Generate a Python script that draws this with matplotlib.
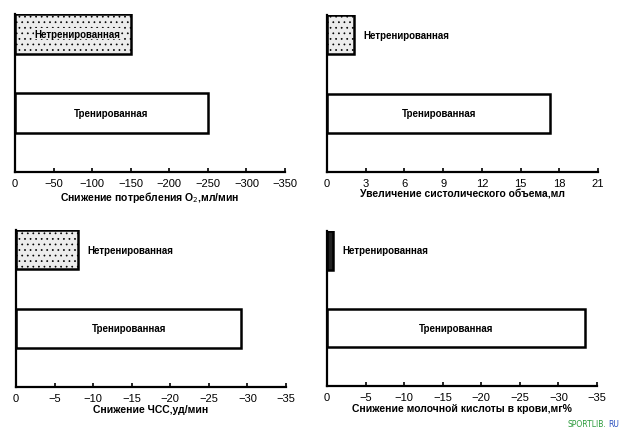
import matplotlib.pyplot as plt
import matplotlib as mpl

mpl.rcParams['hatch.linewidth'] = 0.5
plt.rcParams['font.family'] = ['Liberation Sans', 'DejaVu Sans']

# Data for the four panels
groups = ["Тренированная", "Нетренированная"]

o2_values = [-250, -150]
o2_ticks = [0, -50, -100, -150, -200, -250, -300, -350]
o2_label = "Снижение потребления O$_2$,мл/мин"

stroke_values = [17.3, 2.1]
stroke_ticks = [0, 3, 6, 9, 12, 15, 18, 21]
stroke_label = "Увеличение систолического объема,мл"

hr_values = [-29.2, -8]
hr_ticks = [0, -5, -10, -15, -20, -25, -30, -35]
hr_label = "Снижение ЧСС,уд/мин"

lactate_values = [-33.5, -0.8]
lactate_ticks = [0, -5, -10, -15, -20, -25, -30, -35]
lactate_label = "Снижение молочной кислоты в крови,мг%"

fig = plt.figure(figsize=(6.23, 4.31), dpi=100)


def panel(rect, values, ticks, xlabel, untrained_inside, dark=False):
    ax = fig.add_axes(rect)
    ypos = [1.5, 3.5]
    fills = ['white', '#222222' if dark else '#ececec']
    hatches = [None, None if dark else '...']
    for y, v, fc, h in zip(ypos, values, fills, hatches):
        ax.barh(y, v, height=1.0, left=0, color=fc, edgecolor='black',
                linewidth=1.8, hatch=h)
    ax.set_xlim(ticks[0], ticks[-1])
    ax.set_ylim(0, 4)
    for s in ['top', 'right']:
        ax.spines[s].set_visible(False)
    for s in ['left', 'bottom']:
        ax.spines[s].set_linewidth(1.6)
    ax.set_yticks([])
    ax.set_xticks(ticks)
    ax.set_xticklabels([str(t).replace('-', '−') for t in ticks])
    ax.tick_params(axis='x', direction='in', length=3, width=1.2,
                   labelsize=8, pad=4)
    ax.set_xlabel(xlabel, fontsize=7.5, labelpad=1, fontweight='bold')
    # labels
    ax.text(values[0] / 2, 1.5, groups[0], ha='center', va='center',
            fontsize=7, fontweight='bold')
    if untrained_inside:
        ax.text(values[1] / 2 * 1.08, 3.5, groups[1], ha='center', va='center',
                fontsize=7, fontweight='bold',
                bbox=dict(facecolor='#ececec', edgecolor='none', pad=0.5))
    else:
        span = ticks[-1] - ticks[0]
        ax.text(values[1] + span * 0.035, 3.5, groups[1], ha='left',
                va='center', fontsize=7, fontweight='bold')
    return ax


panel([15 / 623, 1 - 173 / 431, 270 / 623, 158 / 431],
      o2_values, o2_ticks, o2_label, True)
panel([327 / 623, 1 - 173 / 431, 271 / 623, 157 / 431],
      stroke_values, stroke_ticks, stroke_label, False)
panel([16 / 623, 1 - 388 / 431, 270 / 623, 157 / 431],
      hr_values, hr_ticks, hr_label, False)
panel([327 / 623, 1 - 387 / 431, 270 / 623, 155 / 431],
      lactate_values, lactate_ticks, lactate_label, False, dark=True)

fig.text(606 / 623, 1 - 425 / 431, "SPORTLIB.", color='#2a9a3a', fontsize=5.5,
         ha='right', va='center', family='DejaVu Sans')
fig.text(608 / 623, 1 - 425 / 431, "RU", color='#2a4fc0', fontsize=5.5,
         ha='left', va='center', family='DejaVu Sans')

fig.savefig("out.png", dpi=100)
